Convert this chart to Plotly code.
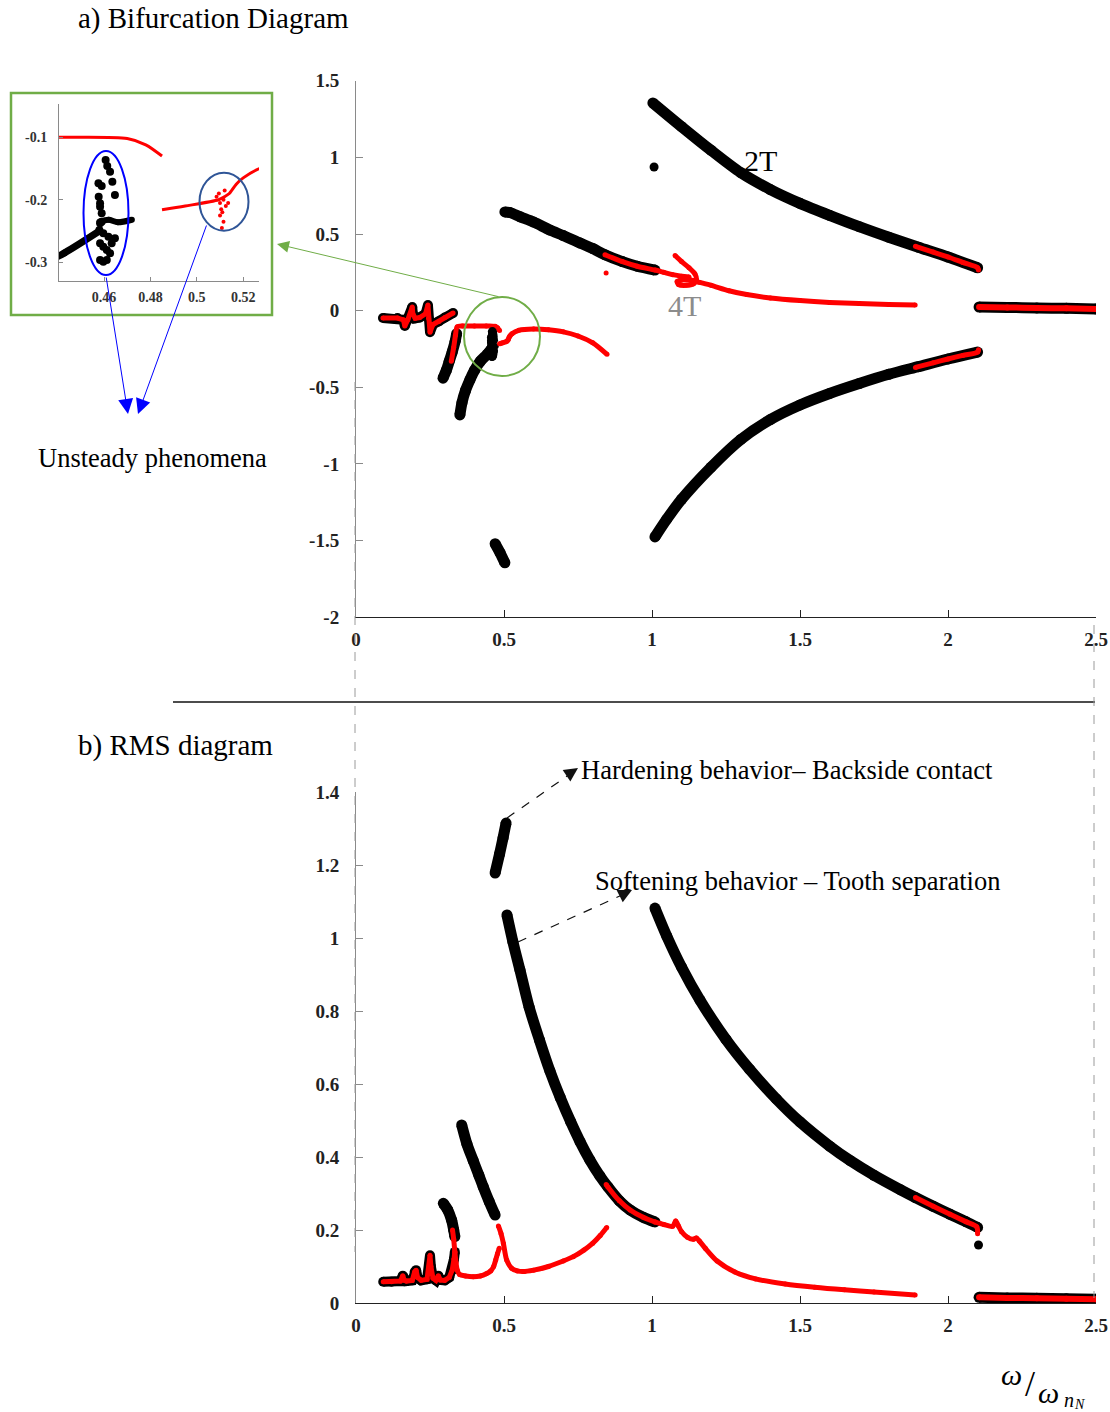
import plotly.graph_objects as go

W, H = 1110, 1412

# ---------------- (a) Bifurcation diagram : data ----------------
a_upper_x = [1.003, 1.1, 1.2, 1.3, 1.4, 1.5, 1.6, 1.7, 1.8, 1.9, 2.0, 2.1]
a_upper_y = [1.355, 1.2, 1.045, 0.9, 0.79, 0.7, 0.622, 0.548, 0.479, 0.414, 0.35, 0.28]
a_upper_red_x = [1.89, 1.95, 2.0, 2.05, 2.1, 2.103]
a_upper_red_y = [0.42, 0.382, 0.35, 0.315, 0.28, 0.265]

a_lower_x = [1.01, 1.05, 1.1, 1.2, 1.3, 1.4, 1.5, 1.6, 1.7, 1.8, 1.9, 2.0, 2.1]
a_lower_y = [-1.476, -1.36, -1.23, -1.02, -0.84, -0.71, -0.615, -0.54, -0.475, -0.415, -0.365, -0.315, -0.27]
a_lower_red_x = [1.89, 1.95, 2.0, 2.05, 2.1, 2.103]
a_lower_red_y = [-0.37, -0.34, -0.315, -0.292, -0.27, -0.255]

a_mid_x = [0.503, 0.52, 0.555, 0.6, 0.655, 0.7, 0.757, 0.8, 0.841, 0.9, 0.95, 1.01]
a_mid_y = [0.644, 0.64, 0.612, 0.578, 0.526, 0.49, 0.441, 0.405, 0.365, 0.32, 0.29, 0.265]
a_mid_red_x = [0.841, 0.9, 0.95, 1.01, 1.04, 1.07, 1.1, 1.125]
a_mid_red_y = [0.365, 0.32, 0.29, 0.265, 0.25, 0.235, 0.225, 0.22]

a_4t_x = [1.078, 1.1, 1.125, 1.145, 1.15, 1.14, 1.115, 1.09, 1.085, 1.1, 1.13, 1.16, 1.2, 1.26,
          1.32, 1.4, 1.5, 1.6, 1.7, 1.8, 1.889]
a_4t_y = [0.36, 0.32, 0.28, 0.24, 0.2, 0.175, 0.165, 0.17, 0.19, 0.2, 0.2, 0.185, 0.165, 0.13,
          0.105, 0.083, 0.066, 0.054, 0.046, 0.04, 0.037]

a_low_x = [0.091, 0.14, 0.16, 0.165, 0.175, 0.19, 0.192, 0.2, 0.215, 0.235, 0.243, 0.245, 0.25,
           0.26, 0.28, 0.3, 0.328]
a_low_y = [-0.048, -0.048, -0.06, -0.1, -0.06, 0.024, -0.02, -0.05, -0.045, -0.02, 0.037, -0.05,
           -0.14, -0.09, -0.07, -0.045, -0.015]

a_brA_x = [0.294, 0.305, 0.315, 0.325, 0.335, 0.34]
a_brA_y = [-0.44, -0.39, -0.33, -0.27, -0.2, -0.15]
a_redB_x = [0.322, 0.33, 0.336, 0.342, 0.36, 0.40, 0.44, 0.47, 0.478, 0.485]
a_redB_y = [-0.33, -0.24, -0.16, -0.105, -0.1, -0.1, -0.1, -0.102, -0.112, -0.13]

a_brC_x = [0.351, 0.358, 0.37, 0.385, 0.40, 0.42, 0.443, 0.458]
a_brC_y = [-0.68, -0.6, -0.52, -0.45, -0.39, -0.33, -0.285, -0.25]

a_scatter_x = [0.4607, 0.4614, 0.4626, 0.4636, 0.4576, 0.4590, 0.4577, 0.4583, 0.4647, 0.4583,
               0.4590, 0.4583, 0.4580, 0.4597, 0.4619, 0.4647, 0.4583, 0.4597, 0.4612, 0.4626,
               0.4583, 0.4597, 0.4612, 0.4633, 0.4590]
a_scatter_y = [-0.1363, -0.1459, -0.155, -0.171, -0.1737, -0.1779, -0.195, -0.2057, -0.1923, -0.211,
               -0.2217, -0.2376, -0.2483, -0.2536, -0.259, -0.2616, -0.2697, -0.275, -0.2803, -0.2857,
               -0.2963, -0.299, -0.2963, -0.2697, -0.235]

a_brE_x = [0.458, 0.462, 0.466, 0.472]
a_brE_y = [-0.235, -0.232, -0.236, -0.232]

a_redF_x = [0.485, 0.495, 0.5094, 0.512, 0.514, 0.517, 0.52, 0.527, 0.55, 0.6, 0.65, 0.7, 0.75, 0.8, 0.848]
a_redF_y = [-0.216, -0.21, -0.2, -0.195, -0.19, -0.175, -0.165, -0.15, -0.128, -0.12, -0.125, -0.138,
            -0.165, -0.21, -0.285]
a_redX_x = [0.5095, 0.51, 0.5105, 0.511, 0.5115, 0.512, 0.5125, 0.51, 0.5115, 0.5108, 0.5085, 0.5135]
a_redX_y = [-0.19, -0.205, -0.215, -0.22, -0.2, -0.185, -0.21, -0.225, -0.235, -0.245, -0.195, -0.205]

a_brG_x = [0.47, 0.487, 0.503]
a_brG_y = [-1.52, -1.58, -1.645]

a_right_x = [2.105, 2.2, 2.3, 2.4, 2.5]
a_right_y = [0.024, 0.021, 0.018, 0.015, 0.011]

a_black_dot = ([1.007], [0.937])
a_red_dot = ([0.845], [0.246])

# ---------------- (b) RMS diagram : data ----------------
b_hard_x = [0.47, 0.485, 0.497, 0.507]
b_hard_y = [1.178, 1.23, 1.275, 1.315]

b_soft1_x = [0.51, 0.53, 0.554, 0.585, 0.62, 0.655, 0.69, 0.725, 0.757, 0.79, 0.824, 0.851, 0.89, 0.926, 0.97, 1.01]
b_soft1_y = [1.063, 0.99, 0.912, 0.81, 0.72, 0.636, 0.563, 0.497, 0.442, 0.392, 0.348, 0.318, 0.28, 0.255, 0.235, 0.222]
b_soft1_red_x = [0.845, 0.851, 0.89, 0.926, 0.97, 1.01]
b_soft1_red_y = [0.325, 0.318, 0.28, 0.255, 0.235, 0.222]

b_soft2_x = [1.01, 1.05, 1.1, 1.162, 1.25, 1.33, 1.42, 1.5, 1.6, 1.67, 1.75, 1.84, 1.89, 1.95, 2.007, 2.06, 2.1]
b_soft2_y = [1.082, 1.005, 0.92, 0.83, 0.722, 0.64, 0.559, 0.496, 0.43, 0.39, 0.35, 0.31, 0.289, 0.265, 0.243, 0.223, 0.207]
b_soft2_red_x = [1.89, 1.95, 2.007, 2.06, 2.097, 2.1]
b_soft2_red_y = [0.289, 0.265, 0.243, 0.223, 0.209, 0.19]

b_dot = ([2.103], [0.159])

b_r4_x = [0.357, 0.375, 0.396, 0.415, 0.43, 0.45, 0.47]
b_r4_y = [0.488, 0.435, 0.39, 0.35, 0.318, 0.278, 0.241]

b_r5_x = [0.295, 0.31, 0.323, 0.33, 0.334]
b_r5_y = [0.273, 0.255, 0.227, 0.2, 0.182]

b_low_x = [0.092, 0.12, 0.15, 0.158, 0.163, 0.17, 0.19, 0.198, 0.203, 0.208, 0.22, 0.24, 0.247, 0.25,
           0.253, 0.26, 0.27, 0.278, 0.285, 0.3, 0.315, 0.325, 0.331, 0.334]
b_low_y = [0.058, 0.058, 0.06, 0.075, 0.062, 0.06, 0.062, 0.085, 0.09, 0.07, 0.062, 0.065, 0.1, 0.131,
           0.1, 0.068, 0.062, 0.075, 0.063, 0.062, 0.07, 0.09, 0.12, 0.14]

b_red5_x = [0.326, 0.33, 0.334, 0.338, 0.342, 0.35, 0.37, 0.396, 0.42, 0.44, 0.455, 0.465, 0.472, 0.478, 0.484]
b_red5_y = [0.2, 0.175, 0.14, 0.11, 0.09, 0.078, 0.074, 0.072, 0.074, 0.08, 0.088, 0.1, 0.118, 0.135, 0.15]

b_red7_x = [0.481, 0.49, 0.498, 0.509, 0.526, 0.545, 0.565, 0.6, 0.65, 0.7, 0.734, 0.77, 0.8, 0.825, 0.847]
b_red7_y = [0.211, 0.19, 0.163, 0.118, 0.095, 0.088, 0.086, 0.09, 0.1, 0.115, 0.127, 0.145, 0.164, 0.185, 0.207]

b_red8_x = [1.01, 1.04, 1.07, 1.08, 1.09, 1.1, 1.12, 1.14, 1.15, 1.16, 1.18, 1.22, 1.28, 1.35, 1.45,
            1.55, 1.65, 1.75, 1.889]
b_red8_y = [0.222, 0.215, 0.21, 0.225, 0.21, 0.195, 0.18, 0.175, 0.178, 0.17, 0.15, 0.115, 0.085, 0.066,
            0.052, 0.043, 0.036, 0.03, 0.022]

b_right_x = [2.105, 2.2, 2.3, 2.4, 2.5]
b_right_y = [0.0156, 0.014, 0.013, 0.0115, 0.01]

# tick values / labels
a_xticks = [0, 0.5, 1, 1.5, 2, 2.5]
a_xlabels = ["0", "0.5", "1", "1.5", "2", "2.5"]
a_yticks = [-2, -1.5, -1, -0.5, 0, 0.5, 1, 1.5]
a_ylabels = ["-2", "-1.5", "-1", "-0.5", "0", "0.5", "1", "1.5"]
b_yticks = [0, 0.2, 0.4, 0.6, 0.8, 1, 1.2, 1.4]
b_ylabels = ["0", "0.2", "0.4", "0.6", "0.8", "1", "1.2", "1.4"]
ins_xticks = [0.46, 0.48, 0.5, 0.52]
ins_xlabels = ["0.46", "0.48", "0.5", "0.52"]
ins_yticks = [-0.3, -0.2, -0.1]
ins_ylabels = ["-0.3", "-0.2", "-0.1"]

BLACK = "#000000"
RED = "#FF0000"
SERIF = "Liberation Serif"

fig = go.Figure()


def add_line(x, y, color, width, axes, spline=True, markers=True):
    xa, ya = axes
    fig.add_trace(go.Scatter(
        x=x, y=y, mode="lines+markers" if markers else "lines",
        line=dict(color=color, width=width, shape="spline" if spline else "linear", smoothing=0.8),
        marker=dict(color=color, size=width, line=dict(width=0)),
        xaxis=xa, yaxis=ya, showlegend=False, hoverinfo="skip"))


def add_pts(x, y, color, size, axes, symbol="circle"):
    xa, ya = axes
    fig.add_trace(go.Scatter(
        x=x, y=y, mode="markers", marker=dict(color=color, size=size, symbol=symbol, line=dict(width=0)),
        xaxis=xa, yaxis=ya, showlegend=False, hoverinfo="skip"))


TOP = ("x", "y")
BOT = ("x2", "y2")
INS = ("x3", "y3")

# ---- top panel ----
BW, RW, OW = 11, 5, 10
add_line(a_upper_x, a_upper_y, BLACK, BW, TOP)
add_line(a_upper_red_x, a_upper_red_y, RED, RW, TOP)
add_line(a_lower_x, a_lower_y, BLACK, BW, TOP)
add_line(a_lower_red_x, a_lower_red_y, RED, RW, TOP)
add_line(a_mid_x, a_mid_y, BLACK, BW, TOP)
add_line(a_mid_red_x, a_mid_red_y, RED, RW, TOP)
add_line(a_4t_x, a_4t_y, RED, RW, TOP)
add_line(a_low_x, a_low_y, BLACK, OW, TOP, spline=False)
add_line(a_low_x, a_low_y, RED, RW, TOP, spline=False)
add_line(a_brA_x, a_brA_y, BLACK, BW, TOP)
add_line(a_redB_x, a_redB_y, RED, RW, TOP)
add_line(a_brC_x, a_brC_y, BLACK, BW, TOP)
add_pts(a_scatter_x, a_scatter_y, BLACK, 9, TOP)
add_line(a_brE_x, a_brE_y, BLACK, 6, TOP)
add_line(a_redF_x, a_redF_y, RED, RW, TOP)
add_line(a_brG_x, a_brG_y, BLACK, BW, TOP)
add_line(a_right_x, a_right_y, BLACK, OW + 1, TOP)
add_line(a_right_x, a_right_y, RED, 6, TOP)
add_pts(*a_black_dot, BLACK, 9, TOP)
add_pts(*a_red_dot, RED, 5, TOP)

# ---- inset ----
add_line(a_redB_x, a_redB_y, RED, 3, INS, markers=False)
add_line(a_redF_x, a_redF_y, RED, 3, INS, markers=False)
add_pts(a_redX_x, a_redX_y, RED, 4, INS)
add_line(a_brC_x, a_brC_y, BLACK, 7, INS)
add_line(a_brE_x, a_brE_y, BLACK, 6, INS)
add_pts(a_scatter_x, a_scatter_y, BLACK, 8, INS)

# ---- bottom panel ----
add_line(b_hard_x, b_hard_y, BLACK, BW, BOT)
add_line(b_soft1_x, b_soft1_y, BLACK, BW, BOT)
add_line(b_soft1_red_x, b_soft1_red_y, RED, RW, BOT)
add_line(b_soft2_x, b_soft2_y, BLACK, BW, BOT)
add_line(b_soft2_red_x, b_soft2_red_y, RED, RW, BOT)
add_pts(*b_dot, BLACK, 9, BOT)
add_line(b_r4_x, b_r4_y, BLACK, BW, BOT)
add_line(b_r5_x, b_r5_y, BLACK, BW, BOT)
add_line(b_low_x, b_low_y, BLACK, OW, BOT, spline=False)
add_line(b_low_x, b_low_y, RED, RW, BOT, spline=False)
add_line(b_red5_x, b_red5_y, RED, RW, BOT)
add_line(b_red7_x, b_red7_y, RED, RW, BOT)
add_line(b_red8_x, b_red8_y, RED, RW, BOT)
add_line(b_right_x, b_right_y, BLACK, OW + 1, BOT)
add_line(b_right_x, b_right_y, RED, 6, BOT)


def px(v):
    return v / W


def py(v):
    return 1 - v / H


tickfont = dict(family=SERIF, size=19, color="#222", weight="bold")
axis_common = dict(showgrid=False, zeroline=False, ticks="inside", ticklen=7, tickwidth=1,
                   tickfont=tickfont, showline=True, automargin=False, tickmode="array")
ins_font = dict(family=SERIF, size=14, color="#333", weight="bold")

fig.update_layout(
    width=W, height=H, margin=dict(l=0, r=0, t=0, b=0),
    paper_bgcolor="white", plot_bgcolor="rgba(0,0,0,0)",
    xaxis=dict(domain=[px(356), px(1096)], range=[0, 2.5], anchor="y", tickvals=a_xticks,
               ticktext=a_xlabels, linecolor="#222", tickcolor="#222", ticklabelstandoff=5, **axis_common),
    yaxis=dict(domain=[py(617.3), py(80.7)], range=[-2, 1.5], anchor="x", tickvals=a_yticks,
               ticktext=a_ylabels, linecolor="#8a8a8a", tickcolor="#8a8a8a", ticklabelstandoff=12,
               **axis_common),
    xaxis2=dict(domain=[px(356), px(1096)], range=[0, 2.5], anchor="y2", tickvals=a_xticks,
                ticktext=a_xlabels, linecolor="#222", tickcolor="#222", ticklabelstandoff=5, **axis_common),
    yaxis2=dict(domain=[py(1303), py(792)], range=[0, 1.4], anchor="x2", tickvals=b_yticks,
                ticktext=b_ylabels, linecolor="#8a8a8a", tickcolor="#8a8a8a", ticklabelstandoff=12,
                **axis_common),
    xaxis3=dict(domain=[px(59), px(259)], range=[0.4406, 0.5268], anchor="y3", tickmode="array",
                tickvals=ins_xticks, ticktext=ins_xlabels, linecolor="#8a8a8a", tickcolor="#8a8a8a",
                showgrid=False, zeroline=False, ticks="inside", ticklen=4, showline=True, automargin=False,
                tickfont=ins_font, ticklabelstandoff=3),
    yaxis3=dict(domain=[py(281), py(104)], range=[-0.33, -0.0467], anchor="x3", tickmode="array",
                tickvals=ins_yticks, ticktext=ins_ylabels, linecolor="#8a8a8a", tickcolor="#8a8a8a",
                showgrid=False, zeroline=False, ticks="inside", ticklen=4, showline=True, automargin=False,
                tickfont=ins_font, ticklabelstandoff=8),
)

shapes = []
# inset frame
shapes.append(dict(type="rect", xref="paper", yref="paper", x0=px(11), x1=px(272), y0=py(315), y1=py(93),
                   line=dict(color="#70AD47", width=2.5)))
# green circle
shapes.append(dict(type="circle", xref="paper", yref="paper", x0=px(464), x1=px(540), y0=py(376), y1=py(297),
                   line=dict(color="#70AD47", width=2)))
# blue ellipses in inset
shapes.append(dict(type="circle", xref="paper", yref="paper", x0=px(83.5), x1=px(128.5), y0=py(275), y1=py(151),
                   line=dict(color="#0000FF", width=2)))
shapes.append(dict(type="circle", xref="paper", yref="paper", x0=px(199.5), x1=px(248.5), y0=py(230.7),
                   y1=py(172.7), line=dict(color="#2F5597", width=2)))
# separator
shapes.append(dict(type="line", xref="paper", yref="paper", x0=px(173), x1=px(1095), y0=py(702), y1=py(702),
                   line=dict(color="#111", width=1.5)))
# dashed guide lines
shapes.append(dict(type="line", xref="paper", yref="paper", x0=px(355), x1=px(355), y0=py(382), y1=py(1252),
                   line=dict(color="#9a9a9a", width=1, dash="dash")))
shapes.append(dict(type="line", xref="paper", yref="paper", x0=px(1094), x1=px(1094), y0=py(625), y1=py(1298),
                   line=dict(color="#9a9a9a", width=1, dash="dash")))
# dashed annotation arrows (bottom panel)
shapes.append(dict(type="line", xref="paper", yref="paper", x0=px(507), x1=px(570), y0=py(818), y1=py(774),
                   line=dict(color="#111", width=1.2, dash="dash")))
shapes.append(dict(type="line", xref="paper", yref="paper", x0=px(518), x1=px(622), y0=py(942), y1=py(895),
                   line=dict(color="#111", width=1.2, dash="dash")))
fig.update_layout(shapes=shapes)

ann = []


def text(t, x, y, size, color="black", xanchor="left", yanchor="middle", italic=False, family=SERIF):
    ann.append(dict(text=t, x=px(x), y=py(y), xref="paper", yref="paper", showarrow=False,
                    xanchor=xanchor, yanchor=yanchor,
                    font=dict(family=family, size=size, color=color, style="italic" if italic else "normal")))


def arrow(hx, hy, tx, ty, color, width=1.2, size=1.5, head=2):
    ann.append(dict(text="", x=px(hx), y=py(hy), xref="paper", yref="paper", showarrow=True,
                    ax=tx - hx, ay=ty - hy, axref="pixel", ayref="pixel",
                    arrowcolor=color, arrowwidth=width, arrowsize=size, arrowhead=head, standoff=0,
                    startstandoff=0))


text("a) Bifurcation Diagram", 76, 19, 29)
text("b) RMS diagram", 76, 746, 29)
text("Unsteady phenomena", 152, 458, 26.5, xanchor="center")
text("2T", 760, 160, 30, xanchor="center")
text("4T", 684, 305, 30, color="#8c8c8c", xanchor="center")
text("Hardening behavior\u2013 Backside contact", 579, 770, 26.5)
text("Softening behavior \u2013 Tooth separation", 593, 881, 26.5)
# axis label  ω/ω_{n_N}
text("ω", 1011, 1374, 30, xanchor="center", italic=True)
text("/", 1030, 1384, 36, xanchor="center")
text("ω", 1048, 1392, 30, xanchor="center", italic=True)
text("n", 1069, 1400, 20, xanchor="center", italic=True)
text("N", 1079, 1404, 14, xanchor="center", italic=True)

# arrows
arrow(277, 244, 500, 297, "#70AD47", width=1, size=2.4)
arrow(128, 414, 106, 276, "#0000FF", width=1, size=3)
arrow(138, 414, 207, 224, "#0000FF", width=1, size=3)
arrow(578, 768, 566, 776, "#111", width=1.2, size=2.3)
arrow(632, 890, 620, 896, "#111", width=1.2, size=2.3)

fig.update_layout(annotations=ann)

fig.write_html("out.html", config={"displayModeBar": False},
               post_script="document.body.style.margin='0';document.body.style.padding='0';"
                           "document.body.style.overflow='hidden';")
